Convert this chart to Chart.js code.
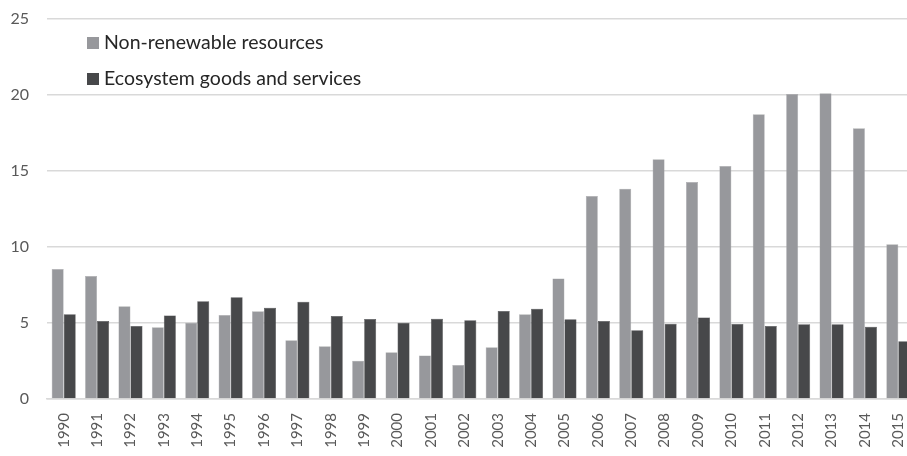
<!DOCTYPE html>
<html>
<head>
<meta charset="utf-8">
<script src="https://cdn.jsdelivr.net/npm/chart.js@4"></script>
<style>
  html, body { margin: 0; padding: 0; background: #fff; overflow: hidden; }
  #wrap { position: relative; width: 916px; height: 456px; }
</style>
</head>
<body>
<div id="wrap"><canvas id="chart" width="916" height="456"></canvas></div>
<script>
// Anos (eixo X)
const years = ['1990','1991','1992','1993','1994','1995','1996','1997','1998','1999','2000','2001','2002',
               '2003','2004','2005','2006','2007','2008','2009','2010','2011','2012','2013','2014','2015'];

// Séries (%)
const nonRenewable = [8.55, 8.09, 6.1, 4.72, 5.02, 5.53, 5.77, 3.86, 3.47, 2.52, 3.07, 2.87, 2.24,
                      3.4, 5.57, 7.92, 13.36, 13.84, 15.77, 14.28, 15.33, 18.73, 20.07, 20.11, 17.81, 10.18];
const ecosystem = [5.57, 5.13, 4.8, 5.5, 6.43, 6.69, 6.01, 6.4, 5.46, 5.26, 5.02, 5.28, 5.18,
                   5.79, 5.94, 5.24, 5.13, 4.52, 4.95, 5.37, 4.93, 4.8, 4.91, 4.91, 4.76, 3.8];

const yTicks = [0, 5, 10, 15, 20, 25];

const FONT = 'Lato, "Open Sans", sans-serif';
const LIGHT = '#97989c';
const DARK = '#47484a';

// Legenda desenhada dentro da área do gráfico (canto superior esquerdo)
const insideLegend = {
    id: 'insideLegend',
    afterDraw(chart) {
        const ctx = chart.ctx;
        const items = chart.data.datasets.map(ds => ({ label: ds.label, color: ds.backgroundColor }));
        ctx.save();
        ctx.font = '19.5px ' + FONT;
        ctx.textBaseline = 'middle';
        items.forEach((it, i) => {
            const y = 43 + i * 36;
            ctx.fillStyle = it.color;
            ctx.fillRect(87, y - 6, 12, 12);
            ctx.fillStyle = '#262626';
            ctx.fillText(it.label, 104, y);
        });
        ctx.restore();
    }
};

new Chart(document.getElementById('chart'), {
    type: 'bar',
    data: {
        labels: years,
        datasets: [
            {
                label: 'Non-renewable resources',
                data: nonRenewable,
                backgroundColor: LIGHT,
                borderColor: '#a9aaad',
                borderWidth: 0.5
            },
            {
                label: 'Ecosystem goods and services',
                data: ecosystem,
                backgroundColor: DARK,
                borderColor: '#3a3b3d',
                borderWidth: 0.5
            }
        ]
    },
    options: {
        responsive: false,
        animation: false,
        layout: { padding: { top: 19, right: 1, left: 0, bottom: 0 } },
        datasets: { bar: { categoryPercentage: 0.72, barPercentage: 1.0 } },
        scales: {
            x: {
                grid: { display: false, drawTicks: false },
                border: { display: true, color: '#d9d9d9', width: 1.5 },
                ticks: {
                    color: '#595959',
                    font: { family: FONT, size: 15 },
                    maxRotation: 90,
                    minRotation: 90,
                    autoSkip: false,
                    padding: 14
                },
                afterFit: (axis) => {
                    axis.height = 57;
                    axis.paddingLeft = 0;
                    axis.paddingRight = 0;
                }
            },
            y: {
                min: 0,
                max: 25,
                afterBuildTicks: (axis) => { axis.ticks = yTicks.map(v => ({ value: v })); },
                grid: { color: '#d9d9d9', lineWidth: 1.5, drawTicks: false },
                border: { display: false },
                ticks: {
                    color: '#595959',
                    font: { family: FONT, size: 16 },
                    padding: 18
                },
                afterFit: (axis) => {
                    axis.width = 47;
                    axis.paddingTop = 0;
                    axis.paddingBottom = 0;
                }
            }
        },
        plugins: {
            legend: { display: false },
            tooltip: { enabled: false }
        }
    },
    plugins: [insideLegend]
});
</script>
</body>
</html>
